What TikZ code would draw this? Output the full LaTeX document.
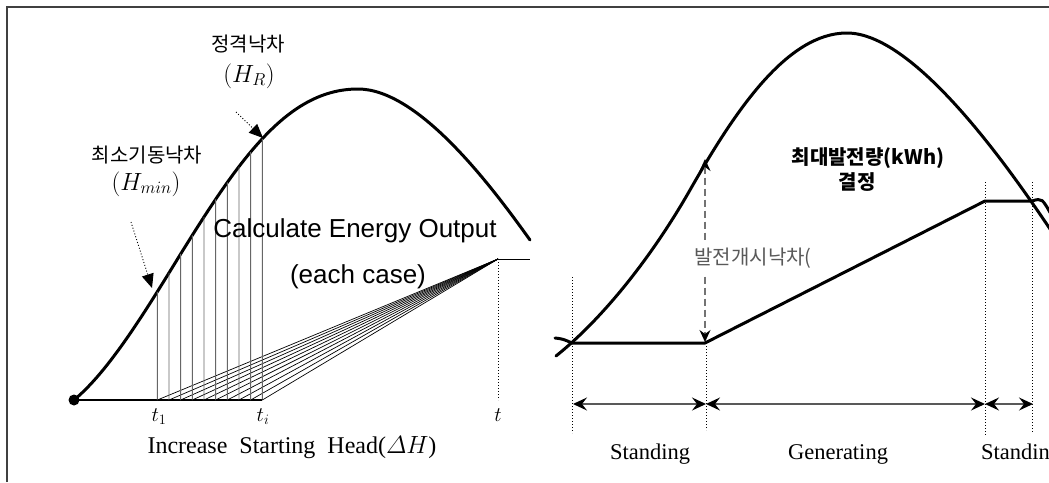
\documentclass[tikz,border=0pt]{standalone}
\usepackage{fontspec}
\setmainfont{Liberation Serif}
\newfontfamily\kr{Noto Sans CJK KR}
\newfontfamily\arialf{Liberation Sans}
\usetikzlibrary{arrows.meta,intersections}
\tikzset{
  thickcurve/.style={line width=3pt, line join=round, line cap=round},
  thinline/.style={line width=0.7pt},
  dotline/.style={line width=0.9pt, dash pattern=on 1pt off 2pt},
  hdarrow/.style={dotline, -{Triangle[length=14pt,width=12pt]}},
  dimarrow/.style={line width=1.3pt, draw=black!65, {Stealth[black,length=14pt,width=13pt,inset=5pt]}-{Stealth[black,length=14pt,width=13pt,inset=5pt]}},
  krlabel/.style={font=\kr\fontsize{20}{22}\selectfont, inner sep=0pt},
  mathlabel/.style={font=\fontsize{24}{26}\selectfont, inner sep=0pt},
  tlabel/.style={font=\fontsize{21}{23}\selectfont, inner sep=0pt, anchor=base},
  serlabel/.style={font=\fontsize{22.5}{24}\selectfont, inner sep=0pt, anchor=base},
  sanslabel/.style={font=\arialf\fontsize{26}{28}\selectfont, inner sep=0pt, anchor=base},
}
\begin{document}
\begin{tikzpicture}[x=1pt,y=-1pt]
\clip (0,0) rectangle (1049,482);
\fill[white] (0,0) rectangle (1049,482);
% frame
\draw[line width=1.5pt, black!75] (7,482) -- (7,7) -- (1049,7);

% ---------------- left panel ----------------
\draw[thickcurve, name path=curve] (74,400)
  .. controls (109,371) and (145,312) .. (180,255)
  .. controls (240,158) and (288,89) .. (358,89)
  .. controls (418,89) and (490,184) .. (530,240);
\fill (74,400) circle (5.5pt);
\coordinate (O) at (74,400);
\coordinate (ti) at (262.3,400);
\coordinate (T) at (498,259);
\coordinate (Tend) at (530,259);
\coordinate (Tb) at (498,400);
\draw[line width=1.2pt] (O) -- (ti);
\foreach \i in {0,...,9}{
  \pgfmathsetmacro\xx{157.3+11.67*\i}
  \path[name path=vline] (\xx,405) -- (\xx,40);
  \draw[line width=0.9pt, black!60, name intersections={of=curve and vline, by=top}] (\xx,400) -- (top);
  \draw[thinline] (\xx,400) -- (T);
}
\draw[thinline, line width=1pt] (T) -- (Tend);
\draw[dotline, line width=0.7pt] (T) -- (Tb);

\coordinate (a1s) at (131,222);
\coordinate (a1e) at (152,288);
\coordinate (a2s) at (236,112);
\coordinate (a2e) at (263,138);
\draw[hdarrow] (a1s) -- (a1e);
\draw[hdarrow] (a2s) -- (a2e);

\node[krlabel] (hr) at (248,44) {정격낙차};
\node[mathlabel] (hrm) at (249,76) {$(H_R)$};
\node[krlabel] (hmin) at (147,155) {최소기동낙차};
\node[mathlabel] (hminm) at (146,184) {$(H_{min})$};
\node[sanslabel] (calc) at (355,237) {Calculate Energy Output};
\node[sanslabel] (each) at (358,283) {(each case)};
\node[tlabel] (t1) at (159,421) {$t_1$};
\node[tlabel] (tix) at (263,421) {$t_i$};
\node[tlabel] (tt) at (498,421) {$t$};
\node[serlabel, font=\fontsize{24}{26}\selectfont] (inc) at (292,453) {Increase\ \ Starting\ \ Head($\mathnormal{\Delta} H$)};

% ---------------- right panel ----------------
\draw[thickcurve] (556,356)
  .. controls (601,320) and (650,260) .. (690,190)
  .. controls (735,111) and (787,33) .. (847,33)
  .. controls (912,33) and (1002,157) .. (1052,232);
\draw[thickcurve] (555,338) .. controls (563,339) .. (572,343);
\coordinate (s0) at (572,343);
\coordinate (s1) at (705,343);
\coordinate (s2) at (985,201);
\coordinate (s3) at (1032,201);
\draw[thickcurve, line cap=butt] (s0) -- (s1) -- (s2) -- (s3) .. controls (1042,198) .. (1052,216);

% dotted verticals
\draw[dotline] (572,277) -- (572,433);
\draw[dotline] (706,343) -- (706,430);
\draw[dotline] (985,182) -- (985,435);
\draw[dotline] (1032,182) -- (1032,433);

% dashed double arrow
\coordinate (dA) at (705,159);
\coordinate (dB) at (705,342);
\draw[line width=1.3pt, black!55, dash pattern=on 7pt off 4pt,
  {Stealth[black,length=12pt,width=11pt,inset=4pt]}-{Stealth[black,length=12pt,width=11pt,inset=4pt]}] (dA) -- (dB);
\node[krlabel, text=black!65, fill=white, inner ysep=8pt, font=\kr\fontsize{20}{22}\selectfont] (start) at (753,258) {발전개시낙차(};

\node[krlabel, font=\kr\bfseries\fontsize{20}{22}\selectfont] (maxe) at (868,158) {최대발전량(kWh)};
\node[krlabel, font=\kr\bfseries\fontsize{20}{22}\selectfont] (dec) at (857,182) {결정};

% dimension arrows
\coordinate (d0) at (573,404);
\coordinate (d1) at (706,404);
\coordinate (d2) at (985,404);
\coordinate (d3) at (1033,404);
\draw[dimarrow] (d0) -- (d1);
\draw[dimarrow] (d1) -- (d2);
\draw[dimarrow] (d2) -- (d3);

\node[serlabel] (st1) at (650,459) {Standing};
\node[serlabel] (gen) at (838,459) {Generating};
\node[serlabel, anchor=base west] (st2) at (981,459) {Standing};
\end{tikzpicture}
\end{document}
